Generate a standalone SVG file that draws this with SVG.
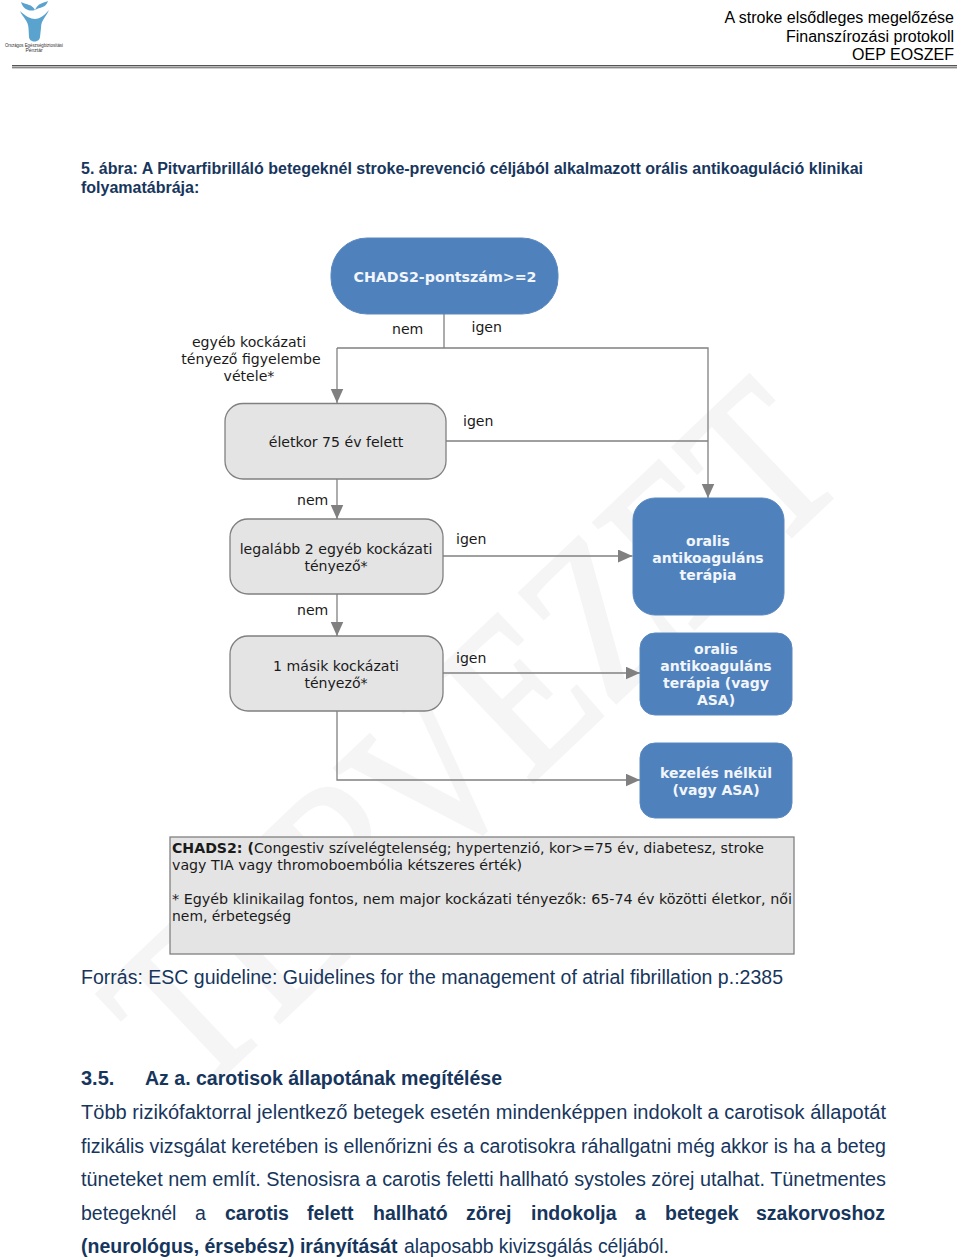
<svg xmlns="http://www.w3.org/2000/svg" width="960" height="1260" viewBox="0 0 960 1260">
<defs>
<marker id="arrow" markerUnits="userSpaceOnUse" markerWidth="16" markerHeight="14" refX="14.500" refY="6.500" orient="auto"><path d="M0 0L14.500 6.500L0 13Z" fill="#808080"/></marker>
</defs>
<style>
.hd{font-family:"Liberation Sans",Arial,sans-serif;font-size:16px;fill:#000}
.body{font-family:"Liberation Sans",Arial,sans-serif;font-size:20px;fill:#17365d}
.sm{font-size:19.500px}
.title{font-family:"Liberation Sans",Arial,sans-serif;font-size:16px;font-weight:bold;fill:#17365d}
.lbl{font-family:"DejaVu Sans",Verdana,sans-serif;font-size:14.100px;fill:#1a1a1a}
.ctr{text-anchor:middle}
.w{font-family:"DejaVu Sans",Verdana,sans-serif;font-size:14px;font-weight:bold;fill:#f2f6fb;text-anchor:middle}
.blue{fill:#4f81bd;stroke:#5a88c0;stroke-width:1}
.gray{fill:#e4e4e4;stroke:#808080;stroke-width:1.300}
.conn{fill:none;stroke:#808080;stroke-width:1.300}
.b{font-weight:bold}
.wm{font-family:"Liberation Serif",serif;font-size:222px;fill:#f5f5f5;stroke:#f5f5f5;stroke-width:4}
</style>
<text class="wm" transform="translate(195 1102) rotate(-43.500) scale(0.82 1)">TERVEZET</text>
<g id="logo" fill="#5ba3cf">
<path d="M21 2C27 5 32 4 35 10C29 12 23 9 21 2Z"/>
<path d="M48 1C46 8 40 7 35 10C38 3 43 3 48 1Z"/>
<path d="M20 11C23 18 28 20 28.500 28L29 37C29.500 43 39.500 43 40 37L41 28C41 20 46 17 49 10C44 16 39 19 35 19C31 19 25 16 20 11Z"/>
<text x="34" y="46.500" font-family="Liberation Sans,sans-serif" font-size="5" text-anchor="middle" fill="#333" textLength="58" lengthAdjust="spacingAndGlyphs">Országos Egészségbiztosítási</text>
<text x="34" y="52" font-family="Liberation Sans,sans-serif" font-size="5" text-anchor="middle" fill="#333">Pénztár</text>
</g>
<g id="header">
<text class="hd" x="954" y="23" text-anchor="end">A stroke elsődleges megelőzése</text>
<text class="hd" x="954" y="42" text-anchor="end">Finanszírozási protokoll</text>
<text class="hd" x="954" y="60" text-anchor="end">OEP EOSZEF</text>
<rect x="12" y="65" width="945" height="1.400" fill="#555"/>
<rect x="12" y="67" width="945" height="1.400" fill="#888"/>
</g>
<g id="heading">
<text class="title" x="81" y="174" textLength="782" lengthAdjust="spacingAndGlyphs">5. ábra: A Pitvarfibrilláló betegeknél stroke-prevenció céljából alkalmazott orális antikoaguláció klinikai</text>
<text class="title" x="81" y="193">folyamatábrája:</text>
</g>
<g id="connectors">
<path class="conn" d="M444 314V348"/>
<path class="conn" d="M337 348H708V498" marker-end="url(#arrow)"/>
<path class="conn" d="M337 348V403" marker-end="url(#arrow)"/>
<path class="conn" d="M446 441H708"/>
<path class="conn" d="M337 479V519" marker-end="url(#arrow)"/>
<path class="conn" d="M443 556H632.500" marker-end="url(#arrow)"/>
<path class="conn" d="M337 594V636" marker-end="url(#arrow)"/>
<path class="conn" d="M443 673H640" marker-end="url(#arrow)"/>
<path class="conn" d="M337 711V780H640" marker-end="url(#arrow)"/>
</g>
<g id="start"><rect class="blue" x="331" y="238" width="227" height="76" rx="36"/><text class="w" x="445" y="282" textLength="183" lengthAdjust="spacingAndGlyphs">CHADS2-pontszám&gt;=2</text></g>
<g id="age"><rect class="gray" x="225" y="403.500" width="221" height="75.500" rx="18"/><text class="lbl ctr" x="336" y="447">életkor 75 év felett</text></g>
<g id="two-factors"><rect class="gray" x="230" y="519" width="213" height="75" rx="18"/><text class="lbl ctr" x="336" y="554">legalább 2 egyéb kockázati</text><text class="lbl ctr" x="336" y="571">tényező*</text></g>
<g id="one-factor"><rect class="gray" x="230" y="636" width="213" height="75" rx="18"/><text class="lbl ctr" x="336" y="671">1 másik kockázati</text><text class="lbl ctr" x="336" y="688">tényező*</text></g>
<g id="oac"><rect class="blue" x="633" y="498" width="151" height="117" rx="22"/><text class="w" x="708" y="546">oralis</text><text class="w" x="708" y="563">antikoaguláns</text><text class="w" x="708" y="580">terápia</text></g>
<g id="oac-asa"><rect class="blue" x="640" y="633" width="152" height="82" rx="15"/><text class="w" x="716" y="654">oralis</text><text class="w" x="716" y="671">antikoaguláns</text><text class="w" x="716" y="688">terápia (vagy</text><text class="w" x="716" y="705">ASA)</text></g>
<g id="none"><rect class="blue" x="640" y="743" width="152" height="75" rx="15"/><text class="w" x="716" y="778">kezelés nélkül</text><text class="w" x="716" y="795">(vagy ASA)</text></g>
<g id="labels">
<text class="lbl ctr" x="249" y="347">egyéb kockázati</text>
<text class="lbl ctr" x="251" y="364">tényező figyelembe</text>
<text class="lbl ctr" x="249" y="381">vétele*</text>
<text class="lbl" x="392" y="334">nem</text>
<text class="lbl" x="471.500" y="332">igen</text>
<text class="lbl" x="463" y="426">igen</text>
<text class="lbl" x="297" y="505">nem</text>
<text class="lbl" x="456" y="544">igen</text>
<text class="lbl" x="297" y="615">nem</text>
<text class="lbl" x="456" y="663">igen</text>
</g>
<g id="legend">
<rect x="170" y="837" width="624" height="117" fill="#e4e4e4" stroke="#808080" stroke-width="1.300"/>
<text class="lbl" x="172" y="853" textLength="592" lengthAdjust="spacingAndGlyphs"><tspan class="b">CHADS2: (</tspan>Congestiv szívelégtelenség; hypertenzió, kor&gt;=75 év, diabetesz, stroke</text>
<text class="lbl" x="172" y="870" textLength="350" lengthAdjust="spacingAndGlyphs">vagy TIA vagy thromoboembólia kétszeres érték)</text>
<text class="lbl" x="172" y="904" textLength="620" lengthAdjust="spacingAndGlyphs">* Egyéb klinikailag fontos, nem major kockázati tényezők: 65-74 év közötti életkor, női</text>
<text class="lbl" x="172" y="921" textLength="119" lengthAdjust="spacingAndGlyphs">nem, érbetegség</text>
</g>
<g id="text">
<text class="body" x="81" y="984" textLength="702" lengthAdjust="spacingAndGlyphs">Forrás: ESC guideline: Guidelines for the management of atrial fibrillation p.:2385</text>
<text class="body b" x="81" y="1085">3.5.</text>
<text class="body b" x="145" y="1085" textLength="357" lengthAdjust="spacingAndGlyphs">Az a. carotisok állapotának megítélése</text>
<text class="body" x="81" y="1119" textLength="805" lengthAdjust="spacingAndGlyphs">Több rizikófaktorral jelentkező betegek esetén mindenképpen indokolt a carotisok állapotát</text>
<text class="body" x="81" y="1153" textLength="805" lengthAdjust="spacingAndGlyphs">fizikális vizsgálat keretében is ellenőrizni és a carotisokra ráhallgatni még akkor is ha a beteg</text>
<text class="body" x="81" y="1186" textLength="805" lengthAdjust="spacingAndGlyphs">tüneteket nem említ. Stenosisra a carotis feletti hallható systoles zörej utalhat. Tünetmentes</text>
<text class="body sm" x="81" y="1220">betegeknél</text>
<text class="body sm" x="195" y="1220">a</text>
<text class="body sm b" x="225" y="1220">carotis</text>
<text class="body sm b" x="307" y="1220">felett</text>
<text class="body sm b" x="373" y="1220">hallható</text>
<text class="body sm b" x="466" y="1220">zörej</text>
<text class="body sm b" x="531" y="1220">indokolja</text>
<text class="body sm b" x="635" y="1220">a</text>
<text class="body sm b" x="665" y="1220">betegek</text>
<text class="body sm b" x="756" y="1220">szakorvoshoz</text>
<text class="body sm b" x="81" y="1253">(neurológus, érsebész) irányítását</text>
<text class="body" x="404" y="1253" textLength="265" lengthAdjust="spacingAndGlyphs">alaposabb kivizsgálás céljából.</text>
</g>
</svg>
